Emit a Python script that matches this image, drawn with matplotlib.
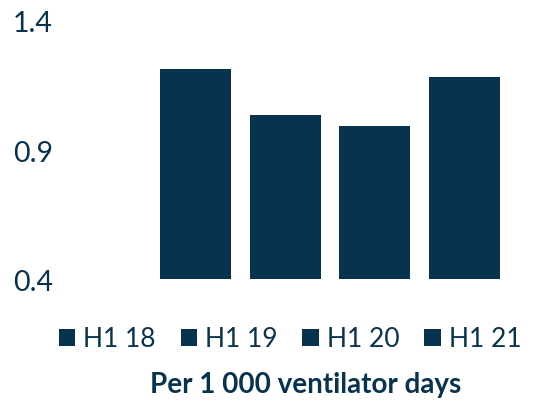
import matplotlib.pyplot as plt

periods = ["H1 18", "H1 19", "H1 20", "H1 21"]
rates = [1.214, 1.036, 0.993, 1.183]
y_ticks = [0.4, 0.9, 1.4]

navy = "#08334f"
plt.rcParams["font.family"] = ["Lato", "DejaVu Sans"]
plt.rcParams["font.size"] = 19

fig = plt.figure(figsize=(5.5, 4.06), dpi=100)
ax = fig.add_axes([60 / 550, 0.310, 470 / 550, 0.636])

for i, (name, val) in enumerate(zip(periods, rates)):
    ax.bar(i, val - 0.4, bottom=0.4, width=0.79, color=navy, label=name)

ax.set_xlim(-1.51, 3.73)
ax.set_ylim(0.4, 1.4)
ax.set_yticks(y_ticks)
ax.set_yticklabels([f"{t:.1f}" for t in y_ticks], color=navy, fontsize=20.5)
ax.set_xticks([])
ax.tick_params(axis="y", length=0, pad=5)
for s in ax.spines.values():
    s.set_visible(False)

fig.legend(loc="center", bbox_to_anchor=(290 / 550, 1 - 340 / 406), ncol=4,
           frameon=False, handlelength=0.62, handleheight=0.62,
           handletextpad=0.3, columnspacing=0.95, labelcolor=navy,
           borderpad=0, borderaxespad=0)

fig.text(306 / 550, 1 - 385 / 406, "Per 1 000 ventilator days", ha="center",
         va="center", fontweight="bold", color=navy, fontsize=20)

fig.savefig("out.png", dpi=100)
